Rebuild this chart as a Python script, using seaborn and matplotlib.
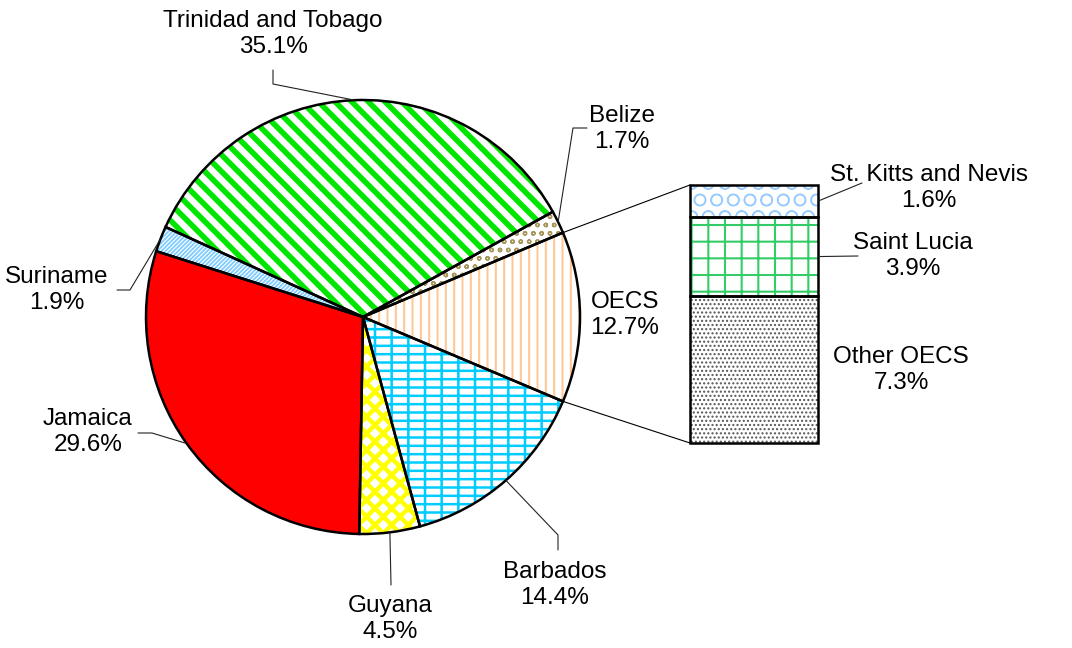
import numpy as np
import matplotlib
matplotlib.use("Agg")
import matplotlib.pyplot as plt
from matplotlib.patches import ConnectionPatch
import seaborn as sns

# shares of exports (counter-clockwise from OECS)
countries = ["OECS", "Belize", "Trinidad and Tobago", "Suriname",
             "Jamaica", "Guyana", "Barbados"]
shares = [12.7, 1.7, 35.1, 1.9, 29.6, 4.5, 14.4]

# breakdown of the OECS slice, bottom to top
oecs_parts = ["Other OECS", "Saint Lucia", "St. Kitts and Nevis"]
oecs_shares = [7.3, 3.9, 1.6]

# face colour, hatch, hatch colour, hatch linewidth
styles = {
    "OECS": ("white", "||", "#ffc896", 1.5),
    "Belize": ("white", "oo", "#a8975a", 1.0),
    "Trinidad and Tobago": ("white", "\\\\", "#00e600", 4.0),
    "Suriname": ("white", "////////", "#80ccff", 1.3),
    "Jamaica": ("#ff0000", None, "#ff0000", 1.0),
    "Guyana": ("white", "xx", "#ffff00", 3.2),
    "Barbados": ("white", "+-", "#00ccff", 1.8),
    "Other OECS": ("white", "....", "#555555", 1.0),
    "Saint Lucia": ("white", "+", "#33cc66", 1.5),
    "St. Kitts and Nevis": ("white", "O", "#99ccff", 1.0),
}

sns.set_theme(style="white")
plt.rcParams['font.family'] = ['Liberation Sans', 'DejaVu Sans']

W, H = 1072, 648
fig = plt.figure(figsize=(W / 100, H / 100), dpi=100)
fig.patch.set_facecolor("white")
ax = fig.add_axes([0, 0, 1, 1])

cx, cy, R = 363, H - 317, 217
start = -shares[0] / sum(shares) * 180


def hatch_it(patch, name):
    fc, hatch, hc, hlw = styles[name]
    patch.set_facecolor(fc)
    patch.set_edgecolor(hc)
    patch.set_linewidth(0)
    if hatch:
        patch.set_hatch(hatch)
        if hasattr(patch, "set_hatch_linewidth"):
            patch.set_hatch_linewidth(hlw)


plt.rcParams['hatch.linewidth'] = 1.5
wedges, _ = ax.pie(shares, startangle=start, center=(cx, cy), radius=R,
                   frame=True)
for w, name in zip(wedges, countries):
    hatch_it(w, name)
ax.pie(shares, startangle=start, center=(cx, cy), radius=R, frame=True,
       wedgeprops=dict(fill=False, edgecolor="black", linewidth=1.8))
ax.set_xlim(0, W)
ax.set_ylim(0, H)
ax.axis("off")

# label text centres and leader elbows (image pixels)
label_pos = {
    "Trinidad and Tobago": (273, 34), "Belize": (622, 129), "OECS": (625, 315),
    "Suriname": (57, 290), "Jamaica": (88, 432), "Guyana": (390, 619),
    "Barbados": (555, 585),
}
leaders = {
    "Trinidad and Tobago": [(273, 70), (273, 84)],
    "Belize": [(587, 128), (573, 128)],
    "Suriname": [(117, 290), (130, 290)],
    "Jamaica": [(138, 433), (152, 433)],
    "Guyana": [(391, 585)],
    "Barbados": [(558, 550), (558, 535)],
}

for w, name, val in zip(wedges, countries, shares):
    x, y = label_pos[name]
    ax.text(x, H - y, f"{name}\n{val:.1f}%", ha="center", va="center",
            fontsize=17.5, linespacing=1.22, color="black")
    if name in leaders:
        mid = np.deg2rad((w.theta1 + w.theta2) / 2)
        xs = [p[0] for p in leaders[name]] + [cx + R * np.cos(mid)]
        ys = [H - p[1] for p in leaders[name]] + [cy + R * np.sin(mid)]
        ax.plot(xs, ys, color="#222222", lw=0.8)

# stacked bar for the OECS breakdown
ax2 = fig.add_axes([690 / W, (H - 443) / H, 128 / W, 258 / H])
total = sum(oecs_shares)
bottoms = np.cumsum([0] + oecs_shares[:-1])
bars = ax2.bar(0, oecs_shares, bottom=bottoms, width=1)
for b, name in zip(bars, oecs_parts):
    hatch_it(b, name)
ax2.bar(0, oecs_shares, bottom=bottoms, width=1, fill=False,
        edgecolor="black", linewidth=1.8, clip_on=False)
ax2.set_xlim(-0.5, 0.5)
ax2.set_ylim(0, total)
ax2.axis("off")

# lines joining the OECS slice to the bar
w0 = wedges[0]
for ang, yb in [(w0.theta2, total), (w0.theta1, 0)]:
    a = np.deg2rad(ang)
    con = ConnectionPatch(xyA=(cx + R * np.cos(a), cy + R * np.sin(a)),
                          coordsA=ax.transData, xyB=(-0.5, yb),
                          coordsB=ax2.transData, color="black", lw=0.8)
    fig.add_artist(con)

bar_label_pos = {"St. Kitts and Nevis": (929, 188), "Saint Lucia": (913, 256),
                 "Other OECS": (901, 370)}
bar_leaders = {"St. Kitts and Nevis": (862, 183), "Saint Lucia": (858, 256)}

for name, val, bot in zip(oecs_parts, oecs_shares, bottoms):
    x, y = bar_label_pos[name]
    ax.text(x, H - y, f"{name}\n{val:.1f}%", ha="center", va="center",
            fontsize=17.5, linespacing=1.22, color="black")
    if name in bar_leaders:
        lx, ly = bar_leaders[name]
        con = ConnectionPatch(xyA=(0.5, bot + val / 2), coordsA=ax2.transData,
                              xyB=(lx, H - ly), coordsB=ax.transData,
                              color="#222222", lw=0.8)
        fig.add_artist(con)

fig.savefig("out.png", dpi=100, facecolor="white")
